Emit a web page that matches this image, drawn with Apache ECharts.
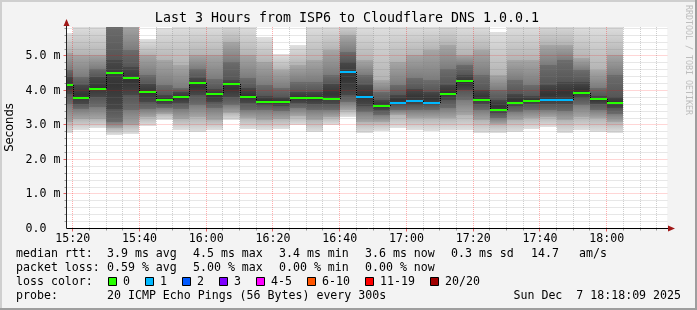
<!DOCTYPE html>
<html><head><meta charset="utf-8">
<script src="https://cdn.jsdelivr.net/npm/echarts@6/dist/echarts.min.js"></script>
<style>html,body{margin:0;padding:0;background:#f3f3f3}#c{width:697px;height:310px}</style>
</head><body><div id="c"></div><script>
// ---- data (minutes after 15:00; values in ms) ----
const colStart = [15,20,25,30,35,40,45,50,55,60,65,70,75,80,85,90,95,100,105,110,115,120,125,130,135,140,145,150,155,160,165,170,175,180];
const pMin = [2.77,2.86,2.91,2.71,2.74,2.97,3.14,2.86,2.80,2.86,3.14,2.88,2.86,2.88,3.00,2.80,3.00,3.23,2.77,2.83,2.91,2.86,2.83,2.86,2.86,2.77,2.77,2.80,2.88,2.94,2.77,2.86,2.80,2.77];
const p4   = [3.10,3.17,3.17,2.91,3.00,3.23,3.32,3.17,3.23,3.14,3.35,3.20,3.14,3.17,3.26,3.14,3.23,3.43,3.09,3.09,3.29,3.20,3.20,3.20,3.29,3.14,3.03,3.14,3.20,3.23,3.14,3.23,3.20,3.09];
const p7   = [3.60,3.46,3.52,3.09,3.43,3.46,3.49,3.46,3.58,3.49,3.58,3.43,3.43,3.41,3.49,3.43,3.43,3.67,3.38,3.29,3.43,3.43,3.43,3.49,3.72,3.43,3.20,3.38,3.43,3.43,3.41,3.58,3.43,3.32];
const p9   = [3.90,3.61,3.81,3.46,3.87,3.67,3.61,3.64,3.87,3.67,3.81,3.64,3.58,3.55,3.64,3.61,3.61,3.87,3.55,3.43,3.58,3.58,3.58,3.72,4.01,3.61,3.35,3.55,3.61,3.61,3.61,3.78,3.61,3.49];
const p12  = [4.40,4.16,4.39,4.88,4.68,4.19,3.87,3.96,4.36,4.04,4.30,4.07,3.84,3.81,3.96,3.96,4.19,4.83,4.16,3.72,3.87,4.04,3.96,4.16,4.45,4.01,3.72,3.90,3.84,4.16,4.25,4.25,3.84,3.81];
const p14  = [4.60,4.39,4.62,5.90,5.17,4.45,4.16,4.07,4.62,4.33,4.83,4.36,4.16,4.07,4.25,4.25,4.45,5.12,4.45,3.96,4.16,4.36,4.30,4.62,4.74,4.45,4.01,4.30,4.16,4.74,4.88,4.59,4.07,4.45];
const p17  = [5.10,5.03,5.03,6.10,5.90,5.03,4.88,4.74,5.03,5.03,5.40,5.03,4.83,4.59,4.74,4.88,5.17,5.60,4.88,4.30,4.83,5.03,5.17,5.32,5.03,5.17,4.45,4.88,4.88,5.32,5.32,4.94,4.59,5.03];
const pMax = [5.66,5.90,5.90,6.30,6.20,5.49,5.80,5.90,5.90,5.90,6.00,5.90,5.55,5.07,5.32,5.90,5.90,6.00,5.90,5.90,5.90,5.90,5.90,6.00,5.90,5.90,5.70,5.90,5.90,6.00,6.00,5.90,5.90,5.90];
const median = [4.17,3.77,4.04,4.52,4.37,3.97,3.73,3.82,4.22,3.91,4.20,3.82,3.67,3.67,3.78,3.78,3.75,4.55,3.82,3.55,3.65,3.70,3.65,3.91,4.28,3.72,3.43,3.65,3.70,3.73,3.73,3.94,3.75,3.64];
const lost = [0,0,0,0,0,0,0,0,0,0,0,0,0,0,0,0,0,1,1,0,1,1,1,0,0,0,0,0,0,1,1,0,0,0];
const xTickMinutes = [20,40,60,80,100,120,140,160,180];
const vGridMinutes = [20,25,30,35,40,45,50,55,60,65,70,75,80,85,90,95,100,105,110,115,120,125,130,135,140,145,150,155,160,165,170,175,180,185,190,195];
const hGridValues = [0.2,0.4,0.6,0.8,1,1.2,1.4,1.6,1.8,2,2.2,2.4,2.6,2.8,3,3.2,3.4,3.6,3.8,4,4.2,4.4,4.6,4.8,5,5.2,5.4,5.6,5.8];
const titleText = 'Last 3 Hours from ISP6 to Cloudflare DNS 1.0.0.1';
const rttStats = ['3.9 ms avg','4.5 ms max','3.4 ms min','3.6 ms now','0.3 ms sd','14.7','am/s'];
const lossStats = ['0.59 % avg','5.00 % max','0.00 % min','0.00 % now'];
const lossLegend = ['0','1','2','3','4-5','6-10','11-19','20/20'];
const lossLegendColors = ['#26ff00','#00b8ff','#0059ff','#7e00ff','#ff00ff','#ff5500','#ff0000','#a00000'];
const probeText = '20 ICMP Echo Pings (56 Bytes) every 300s';
const dateText = 'Sun Dec  7 18:18:09 2025';

// ---- layout / style ----
const STEP = 5;
const X_MIN = 18.15, X_MAX = 198.15, Y_MAX = 5.84;
const L = 66.5, T = 27, W = 600.75, H = 201.5;
const MONO = '"DejaVu Sans Mono", monospace';
const FS = 11.6;
// gray level (bottom edge, top edge) for each band between consecutive smoke boundaries
const BAND_GRAYS = [[224,180],[166,124],[108,86],[66,66],[86,108],[124,166],[180,224]];
const GRID_C = 'rgba(128,128,128,0.38)';
const MGRID_C = 'rgba(255,0,0,0.32)';
function gray(g){ return 'rgb('+g+','+g+','+g+')'; }
function lossColor(n){ return n===0?lossLegendColors[0]:n===1?lossLegendColors[1]:n===2?lossLegendColors[2]:n===3?lossLegendColors[3]:n<=5?lossLegendColors[4]:n<=10?lossLegendColors[5]:n<=19?lossLegendColors[6]:lossLegendColors[7]; }
function pad(n){return (n<10?'0':'')+n;}
function fmtTime(v){ const t=15*60+Math.round(v); return pad(Math.floor(t/60))+':'+pad(t%60); }

function colX(api, cs, s){
  let xa = Math.round(api.coord([s,0])[0]);
  let xb = Math.round(api.coord([s+STEP,0])[0]);
  xa = Math.max(xa, Math.round(cs.x)); xb = Math.min(xb, Math.round(cs.x+cs.width));
  return [xa,xb];
}
function smokeItem(params, api){
  const cs = params.coordSys;
  const s = api.value(0);
  const [xa,xb] = colX(api, cs, s);
  const top = cs.y, bot = cs.y+cs.height;
  const ch = [];
  for (let i=0;i<7;i++){
    const yB = api.coord([s, api.value(1+i)])[1];   // lower value -> larger y
    const yT = api.coord([s, api.value(2+i)])[1];
    const yl = Math.round(Math.min(yB,bot)), yh = Math.round(Math.max(yT,top));
    if (yl<=yh || xb<=xa) continue;
    const g = BAND_GRAYS[i];
    const fill = (i===3)
      ? new echarts.graphic.LinearGradient(0,yT,0,yB,[{offset:0,color:gray(72)},{offset:0.5,color:gray(52)},{offset:1,color:gray(72)}],true)
      : new echarts.graphic.LinearGradient(0,yT,0,yB,[{offset:0,color:gray(g[1])},{offset:1,color:gray(g[0])}],true);
    ch.push({type:'rect', shape:{x:xa,y:yh,width:xb-xa,height:yl-yh}, style:{fill:fill}});
  }
  return {type:'group', children:ch};
}
function medItem(params, api){
  const cs = params.coordSys;
  const s = api.value(0), m = api.value(1), loss = api.value(2), nm = api.value(3);
  const [xa,xb] = colX(api, cs, s);
  const y = Math.round(api.coord([s,m])[1]);
  const ch = [{type:'rect', shape:{x:xa,y:y-1,width:xb-xa,height:2}, style:{fill:lossColor(loss)}}];
  if (nm > 0){
    const y2 = Math.round(api.coord([s,nm])[1]);
    if (Math.abs(y2-y) > 1) ch.push({type:'line', shape:{x1:xb+0.5,y1:Math.min(y,y2),x2:xb+0.5,y2:Math.max(y,y2)}, style:{stroke:'#000',lineWidth:1,lineDash:[1,1]}});
  }
  return {type:'group', children:ch};
}
function vGridItem(params, api){
  const cs = params.coordSys;
  const m = api.value(0);
  const x = Math.floor(api.coord([m,0])[0])+0.5;
  const major = m % 20 === 0;
  return {type:'group', children:[
    {type:'line', shape:{x1:x,y1:cs.y,x2:x,y2:cs.y+cs.height}, style:{stroke:major?MGRID_C:GRID_C,lineWidth:1,lineDash:[1,1]}},
    {type:'line', shape:{x1:x,y1:cs.y+cs.height,x2:x,y2:cs.y+cs.height+(major?3:2)}, style:{stroke:major?'#e06060':'#999',lineWidth:1}}
  ]};
}
function hGridItem(params, api){
  const cs = params.coordSys;
  const v = api.value(1);
  const y = Math.floor(api.coord([X_MIN,v])[1])+0.5;
  const major = Math.abs(v-Math.round(v))<1e-6;
  return {type:'group', children:[
    {type:'line', shape:{x1:cs.x,y1:y,x2:cs.x+cs.width,y2:y}, style:{stroke:major?MGRID_C:GRID_C,lineWidth:1,lineDash:[1,1]}},
    {type:'line', shape:{x1:cs.x-(major?3:2),y1:y,x2:cs.x,y2:y}, style:{stroke:major?'#e06060':'#999',lineWidth:1}}
  ]};
}

const smokeData = colStart.map((s,i)=>[s,pMin[i],p4[i],p7[i],p9[i],p12[i],p14[i],p17[i],pMax[i]]);
const medData = colStart.map((s,i)=>[s,median[i],lost[i], i<median.length-1?median[i+1]:-1]);

function txt(x,y,text,extra){
  return Object.assign({type:'text', x:x, y:y, z:100, silent:true,
    style:Object.assign({text:text, font:FS+'px '+MONO, fill:'#000', align:'left', verticalAlign:'middle', textAlign:'left', textVerticalAlign:'middle'}, (extra&&extra.style)||{})}, extra&&extra.el||{});
}
const graphics = [
  {type:'rect', shape:{x:0,y:0,width:697,height:2}, style:{fill:'#cfcfcf'}, z:100},
  {type:'rect', shape:{x:0,y:0,width:2,height:310}, style:{fill:'#cfcfcf'}, z:100},
  {type:'rect', shape:{x:0,y:308,width:697,height:2}, style:{fill:'#9e9e9e'}, z:100},
  {type:'rect', shape:{x:695,y:0,width:2,height:310}, style:{fill:'#9e9e9e'}, z:100},
  {type:'line', shape:{x1:L,y1:T+H,x2:670,y2:T+H}, style:{stroke:'#000',lineWidth:1}, z:100},
  {type:'line', shape:{x1:L,y1:T+H,x2:L,y2:23}, style:{stroke:'#222',lineWidth:1}, z:100},
  {type:'polygon', shape:{points:[[668,T+H-3],[675,T+H],[668,T+H+3]]}, style:{fill:'#a01818'}, z:101},
  {type:'polygon', shape:{points:[[L-3,26],[L,19],[L+3,26]]}, style:{fill:'#a01818'}, z:101},
  txt(347,19,titleText,{style:{font:'13.3px '+MONO, align:'center', textAlign:'center'}}),
  txt(10,127.5,'Seconds',{style:{font:'11.6px "DejaVu Sans", sans-serif', align:'center', textAlign:'center'}, el:{rotation:Math.PI/2}}),
  txt(688,60,'RRDTOOL / TOBI OETIKER',{style:{font:'8.3px '+MONO, fill:'#bdbdbd', align:'center', textAlign:'center'}, el:{rotation:-Math.PI/2}}),
  txt(16,254,'median rtt:'),
  txt(107,254,rttStats[0]), txt(193,254,rttStats[1]), txt(279,254,rttStats[2]), txt(365,254,rttStats[3]), txt(451,254,rttStats[4]), txt(531,254,rttStats[5]), txt(579,254,rttStats[6]),
  txt(16,268,'packet loss:'),
  txt(107,268,lossStats[0]), txt(193,268,lossStats[1]), txt(279,268,lossStats[2]), txt(365,268,lossStats[3]),
  txt(16,282,'loss color:'),
  txt(16,296,'probe:'),
  txt(107,296,probeText),
  txt(681,296,dateText,{style:{align:'right', textAlign:'right'}})
];
const boxX = [108,145,182,219,256,307,365,430];
lossLegend.forEach((lab,i)=>{
  graphics.push({type:'rect', shape:{x:boxX[i]+0.5,y:277.5,width:8,height:8}, style:{fill:lossLegendColors[i], stroke:'#000', lineWidth:1}, z:100});
  graphics.push(txt(boxX[i]+15,282,lab));
});

const chart = echarts.init(document.getElementById('c'), null, {renderer:'canvas'});
chart.setOption({
  backgroundColor:'#f3f3f3',
  animation:false,
  grid:{left:L, top:T, width:W, height:H, show:true, backgroundColor:'#ffffff', borderWidth:0, containLabel:false},
  xAxis:{type:'value', min:X_MIN, max:X_MAX, axisLine:{show:false}, splitLine:{show:false}, axisTick:{show:false},
    axisLabel:{customValues:xTickMinutes, formatter:fmtTime, margin:4, color:'#000', fontFamily:MONO, fontSize:FS}},
  yAxis:{type:'value', min:0, max:Y_MAX, interval:1, axisLine:{show:false}, splitLine:{show:false}, axisTick:{show:false},
    axisLabel:{showMaxLabel:false, formatter:v=> v===0?'0.0  ':v.toFixed(1)+' m', margin:6, color:'#000', fontFamily:MONO, fontSize:FS}},
  series:[
    {type:'custom', name:'smoke', renderItem:smokeItem, data:smokeData, encode:{x:0,y:1}, z:2, silent:true},
    {type:'custom', name:'vgrid', renderItem:vGridItem, data:vGridMinutes.map(m=>[m,0]), encode:{x:0,y:1}, z:3, silent:true},
    {type:'custom', name:'hgrid', renderItem:hGridItem, data:hGridValues.map(v=>[X_MIN,v]), encode:{x:0,y:1}, z:3, silent:true},
    {type:'custom', name:'median', renderItem:medItem, data:medData, encode:{x:0,y:1}, z:4, silent:true}
  ],
  graphic:graphics
});
</script></body></html>
